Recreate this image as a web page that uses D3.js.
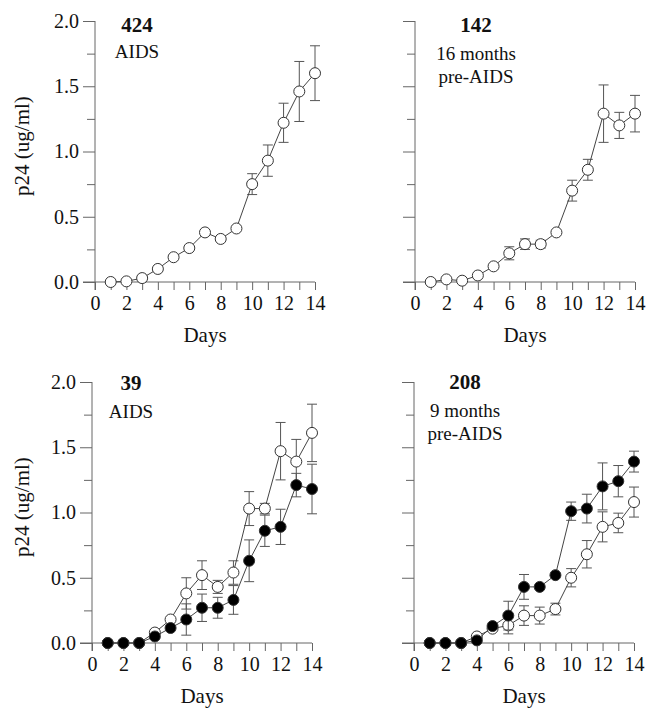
<!DOCTYPE html>
<html>
<head>
<meta charset="utf-8">
<script src="https://cdn.jsdelivr.net/npm/d3@7/dist/d3.min.js"></script>
<style>
  html, body { margin: 0; padding: 0; background: #fff; }
  svg { display: block; }
  text { font-family: "Liberation Serif", "Times New Roman", serif; fill: #111; }
</style>
</head>
<body>
<div id="chart"></div>
<script>
// ---------- data ----------
const days = [1, 2, 3, 4, 5, 6, 7, 8, 9, 10, 11, 12, 13, 14];
const xTicks = [0, 2, 4, 6, 8, 10, 12, 14];
const yTicks = [0.0, 0.5, 1.0, 1.5, 2.0];
const yMinorTicks = [0.25, 0.75, 1.25, 1.75];

// panel 424 (AIDS)
const p424Open    = [0.00, 0.005, 0.03, 0.10, 0.19, 0.26, 0.38, 0.33, 0.41, 0.75, 0.93, 1.22, 1.46, 1.60];
const p424OpenErr = [0, 0, 0, 0, 0, 0, 0, 0, 0, 0.08, 0.12, 0.15, 0.23, 0.21];

// panel 142 (16 months pre-AIDS)
const p142Open    = [0.00, 0.02, 0.01, 0.05, 0.12, 0.22, 0.29, 0.29, 0.38, 0.70, 0.86, 1.29, 1.20, 1.29];
const p142OpenErr = [0, 0, 0, 0, 0, 0.05, 0.04, 0.03, 0, 0.08, 0.08, 0.22, 0.10, 0.14];

// panel 39 (AIDS)
const p39Open     = [0.00, 0.00, 0.00, 0.08, 0.18, 0.38, 0.52, 0.43, 0.54, 1.03, 1.03, 1.47, 1.39, 1.61];
const p39OpenErr  = [0, 0, 0, 0, 0, 0.12, 0.11, 0.05, 0.09, 0.13, 0.04, 0.22, 0.17, 0.22];
const p39Filled    = [0.00, 0.00, 0.00, 0.05, 0.115, 0.18, 0.27, 0.27, 0.33, 0.63, 0.86, 0.89, 1.21, 1.18];
const p39FilledErr = [0, 0, 0, 0, 0, 0.12, 0.105, 0.08, 0.11, 0.16, 0.12, 0.135, 0.09, 0.19];

// panel 208 (9 months pre-AIDS)
const p208Open     = [0.00, 0.00, 0.00, 0.05, 0.11, 0.135, 0.21, 0.21, 0.26, 0.50, 0.68, 0.89, 0.92, 1.08];
const p208OpenErr  = [0, 0, 0, 0, 0, 0.065, 0.075, 0.065, 0.045, 0.07, 0.105, 0.115, 0.075, 0.115];
const p208Filled    = [0.00, 0.00, 0.00, 0.02, 0.13, 0.21, 0.43, 0.43, 0.52, 1.01, 1.03, 1.20, 1.24, 1.39];
const p208FilledErr = [0, 0, 0, 0, 0, 0.11, 0.095, 0, 0, 0.07, 0.11, 0.18, 0.12, 0.08];

const panelIds = ["424", "142", "39", "208"];
const panelLabels = [["AIDS"], ["16 months", "pre-AIDS"], ["AIDS"], ["9 months", "pre-AIDS"]];
const panelSeries = [
  [{ values: p424Open, err: p424OpenErr, filled: false }],
  [{ values: p142Open, err: p142OpenErr, filled: false }],
  [{ values: p39Open, err: p39OpenErr, filled: false }, { values: p39Filled, err: p39FilledErr, filled: true }],
  [{ values: p208Open, err: p208OpenErr, filled: false }, { values: p208Filled, err: p208FilledErr, filled: true }]
];

// ---------- layout ----------
const W = 647, H = 713;
const layout = [
  { left: 95,  top: 21,  showY: true,  textX: 137, titleY: 32,  lineY0: 58,  daysY: 342 },
  { left: 415, top: 21,  showY: false, textX: 476, titleY: 32,  lineY0: 60,  daysY: 342 },
  { left: 92,  top: 382, showY: true,  textX: 131, titleY: 390, lineY0: 418, daysY: 703 },
  { left: 414, top: 382, showY: false, textX: 465, titleY: 389, lineY0: 417, daysY: 703 }
];
const pw = 220, ph = 261;
const axisColor = "#666";
const tickFont = "20px", titleFont = "21px";

const svg = d3.select("#chart").append("svg").attr("width", W).attr("height", H);

layout.forEach((L, i) => {
  const g = svg.append("g").attr("transform", `translate(${L.left},${L.top})`);
  const x = d3.scaleLinear().domain([0, 14]).range([0, pw]);
  const y = d3.scaleLinear().domain([0, 2]).range([ph, 0]);

  // y axis
  const yAxis = d3.axisLeft(y).tickValues(yTicks).tickSize(12).tickPadding(4)
    .tickFormat(d => L.showY ? d3.format(".1f")(d) : "");
  const ya = g.append("g").call(yAxis);
  ya.select(".domain").remove();
  ya.selectAll(".tick line").attr("stroke", axisColor);
  ya.selectAll("text").style("font-size", tickFont).style("font-family", "Liberation Serif, serif").attr("fill", "#111");
  const ym = g.append("g").call(d3.axisLeft(y).tickValues(yMinorTicks).tickSize(8).tickFormat(""));
  ym.select(".domain").remove();
  ym.selectAll(".tick line").attr("stroke", axisColor);
  g.append("line").attr("x1", 0).attr("x2", 0).attr("y1", y(2)).attr("y2", y(0) + 8)
    .attr("stroke", axisColor).attr("stroke-width", 1);

  // x axis
  const xAxis = d3.axisBottom(x).tickValues(d3.range(0, 15)).tickSize(8).tickPadding(6)
    .tickFormat(d => xTicks.includes(d) ? d : "");
  const xa = g.append("g").attr("transform", `translate(0,${ph})`).call(xAxis);
  xa.select(".domain").remove();
  xa.selectAll(".tick line").attr("stroke", axisColor);
  xa.selectAll("text").style("font-size", tickFont).style("font-family", "Liberation Serif, serif").attr("fill", "#111");
  g.append("line").attr("x1", -12).attr("x2", x(14)).attr("y1", y(0)).attr("y2", y(0))
    .attr("stroke", axisColor).attr("stroke-width", 1);

  // axis titles
  svg.append("text").attr("x", L.left + pw / 2).attr("y", L.daysY).attr("text-anchor", "middle")
    .style("font-size", titleFont).text("Days");
  if (L.showY) {
    svg.append("text")
      .attr("transform", `translate(${29},${L.top + 125}) rotate(-90)`)
      .attr("text-anchor", "middle").style("font-size", titleFont).text("p24 (ug/ml)");
  }

  // annotation
  svg.append("text").attr("x", L.textX).attr("y", L.titleY).attr("text-anchor", "middle")
    .style("font-size", "21px").style("font-weight", "bold").text(panelIds[i]);
  panelLabels[i].forEach((t, k) => {
    svg.append("text").attr("x", L.textX).attr("y", L.lineY0 + k * 23).attr("text-anchor", "middle")
      .style("font-size", "19px").text(t);
  });

  // series
  const line = d3.line().x((d, j) => x(days[j])).y(d => y(d));
  panelSeries[i].forEach(s => {
    const sg = g.append("g");
    // error bars
    days.forEach((dd, j) => {
      const e = s.err[j];
      if (!e) return;
      const cx = x(dd);
      sg.append("line").attr("x1", cx).attr("x2", cx)
        .attr("y1", y(s.values[j] + e)).attr("y2", y(s.values[j] - e))
        .attr("stroke", "#555").attr("stroke-width", 1);
      [s.values[j] + e, s.values[j] - e].forEach(v => {
        sg.append("line").attr("x1", cx - 5).attr("x2", cx + 5).attr("y1", y(v)).attr("y2", y(v))
          .attr("stroke", "#555").attr("stroke-width", 1);
      });
    });
    sg.append("path").datum(s.values).attr("d", line)
      .attr("fill", "none").attr("stroke", "#444").attr("stroke-width", 1);
    sg.selectAll("circle").data(s.values).enter().append("circle")
      .attr("cx", (d, j) => x(days[j])).attr("cy", d => y(d)).attr("r", 5.5)
      .attr("fill", s.filled ? "#000" : "#fff").attr("stroke", "#333").attr("stroke-width", 1);
  });
});
</script>
</body>
</html>
